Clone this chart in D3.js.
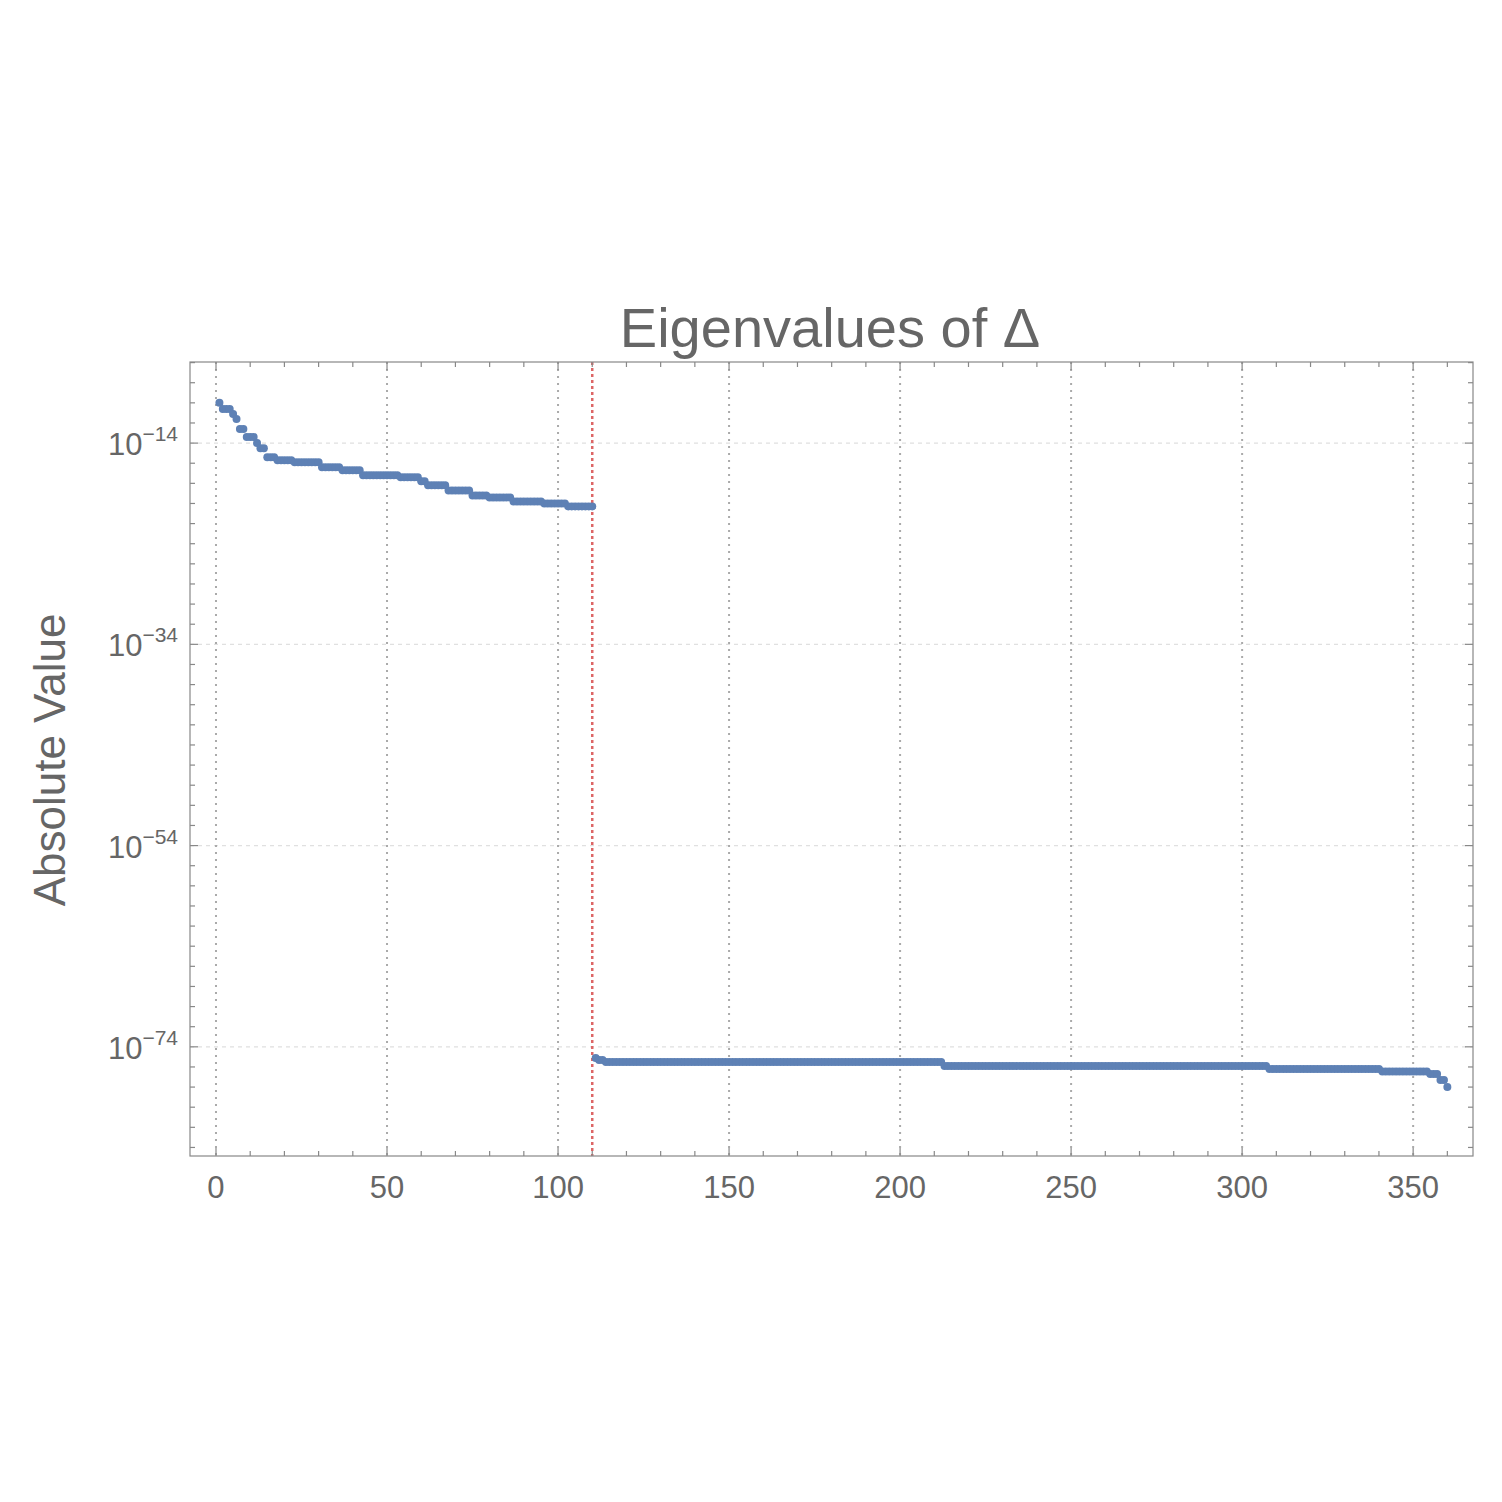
<!DOCTYPE html>
<html><head><meta charset="utf-8">
<script src="https://cdn.jsdelivr.net/npm/d3@7"></script>
<style>body{margin:0;background:#fff}</style></head>
<body><svg id="c" width="1502" height="1502"></svg>
<script>
// run-length encoded data: log10 of |eigenvalue| per run, and run lengths
const topLevels = [-10.0,-10.6,-11.1,-11.6,-12.6,-13.4,-14.0,-14.5,-15.4,-15.7,-15.9,-16.4,-16.7,-17.2,-17.4,-17.8,-18.2,-18.7,-19.2,-19.4,-19.8,-20.0,-20.3];
const topCounts = [1,3,1,1,2,3,1,2,3,5,8,6,6,11,6,2,6,7,5,7,9,7,8];
const botLevels = [-75.1,-75.3,-75.5,-75.9,-76.2,-76.45,-76.7,-77.3,-78.0];
const botCounts = [1,2,99,95,33,14,3,2,1];
const xTicks = [0,50,100,150,200,250,300,350];
const yTickExps = [-14,-34,-54,-74];
const cutoff = 110;

const pts = [];
let i = 1;
[[topLevels,topCounts],[botLevels,botCounts]].forEach(([L,C])=>{
  L.forEach((e,k)=>{ for(let j=0;j<C[k];j++){ pts.push({x:i, y:Math.pow(10,e)}); i++; } });
});

const svg = d3.select("#c");
const L0=190,R0=1473,T0=362,B0=1156;
const x = d3.scaleLinear().domain([-7.6,367.5]).range([L0,R0]);
const y = d3.scaleLog().domain([Math.pow(10,-84.85),Math.pow(10,-5.94)]).range([B0,T0]);
const gray="#666";

// grids
yTickExps.forEach(e=>{
  svg.append("line").attr("x1",L0).attr("x2",R0).attr("y1",y(Math.pow(10,e))).attr("y2",y(Math.pow(10,e)))
    .attr("stroke","#e0e0e0").attr("stroke-width",1.2).attr("stroke-dasharray","4,4");
});
xTicks.forEach(t=>{
  svg.append("line").attr("x1",x(t)).attr("x2",x(t)).attr("y1",T0).attr("y2",B0)
    .attr("stroke","#aaa").attr("stroke-width",2).attr("stroke-dasharray","2,5");
});
svg.append("line").attr("x1",x(cutoff)).attr("x2",x(cutoff)).attr("y1",T0).attr("y2",B0)
  .attr("stroke","#dd6666").attr("stroke-width",2.5).attr("stroke-dasharray","3,3");

// frame
svg.append("rect").attr("x",L0).attr("y",T0).attr("width",R0-L0).attr("height",B0-T0)
  .attr("fill","none").attr("stroke","#888").attr("stroke-width",1.2);

// x ticks
for(let t=-0;t<=360;t+=10){
  const maj = t%50===0, len = maj?8:5;
  [[B0,-1],[T0,1]].forEach(([yy,s])=>svg.append("line").attr("x1",x(t)).attr("x2",x(t))
    .attr("y1",yy).attr("y2",yy+s*len).attr("stroke","#888").attr("stroke-width",1.2));
}
xTicks.forEach(t=>svg.append("text").attr("x",x(t)).attr("y",B0+42).attr("text-anchor","middle")
  .attr("font-family","Liberation Sans, Arial, sans-serif").attr("font-size",31).attr("fill",gray).text(t));

// y ticks
for(let e=-84;e<=-6;e+=2){
  const maj = yTickExps.includes(e), len = maj?8:5, yy=y(Math.pow(10,e));
  [[L0,1],[R0,-1]].forEach(([xx,s])=>svg.append("line").attr("x1",xx).attr("x2",xx+s*len)
    .attr("y1",yy).attr("y2",yy).attr("stroke","#888").attr("stroke-width",1.2));
}
yTickExps.forEach(e=>{
  const t = svg.append("text").attr("x",L0-12).attr("y",y(Math.pow(10,e))+12).attr("text-anchor","end")
    .attr("font-family","Liberation Sans, Arial, sans-serif").attr("font-size",31).attr("fill",gray);
  t.append("tspan").text("10");
  t.append("tspan").attr("dy",-14).attr("font-size",21).text("\u2212"+Math.abs(e));
});

// points
svg.append("g").selectAll("circle").data(pts).join("circle")
  .attr("cx",d=>x(d.x)).attr("cy",d=>y(d.y)).attr("r",4).attr("fill","#5e81b5");

// titles
svg.append("text").attr("x",830).attr("y",347).attr("text-anchor","middle")
  .attr("font-family","Liberation Sans, Arial, sans-serif").attr("font-size",56).attr("fill",gray).text("Eigenvalues of \u0394");
svg.append("text").attr("transform","translate(65,760) rotate(-90)").attr("text-anchor","middle")
  .attr("font-family","Liberation Sans, Arial, sans-serif").attr("font-size",44).attr("fill",gray).text("Absolute Value");
</script></body></html>
